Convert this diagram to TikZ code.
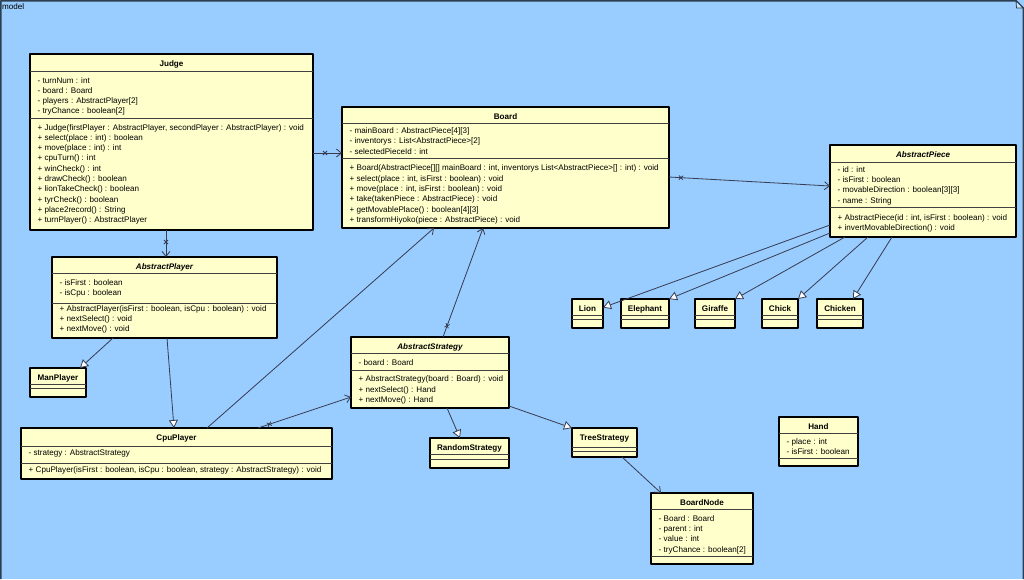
\documentclass[tikz,border=0pt]{standalone}
\usepackage{fontspec}
\setmainfont{Liberation Sans}
\usetikzlibrary{arrows.meta,decorations.markings}

\definecolor{bgblue}{RGB}{153,204,255}
\definecolor{clsfill}{RGB}{255,255,204}
\definecolor{framecol}{RGB}{44,62,80}
\definecolor{foldcol}{RGB}{204,229,255}
\definecolor{linecol}{RGB}{55,60,80}

\newcommand\umlfont{\fontsize{8.1}{10.33}\selectfont}
% one text line per member, first baseline #3 below the top of the box
\newcommand\members[4]{%
  \foreach \mtext [count=\mi] in {#4}
    \node[member] (#1-#2\mi) at ([xshift=7.5pt,yshift={-(#3+(\mi-1)*10.33)*1pt}]#1.north west) {\mtext};%
}

\tikzset{
  cls/.style={draw=black, line width=1.4pt, fill=clsfill, anchor=north west, inner sep=0pt, outer sep=0pt},
  sepline/.style={draw=black!75, line width=0.8pt},
  title/.style={anchor=base, inner sep=0pt, font=\umlfont\bfseries},
  member/.style={anchor=base west, inner sep=0pt, font=\umlfont},
  assoc/.style={draw=linecol, line width=0.8pt, -{Straight Barb[length=5pt,width=8pt]}},
  inherit/.style={draw=linecol, line width=0.8pt, -{Triangle[length=8pt,width=9pt,fill=white]}},
  xend/.style={postaction={decorate,decoration={markings,
      mark=at position 12pt with {\draw[linecol,line width=0.8pt,-] (-2pt,-2pt)--(2pt,2pt) (-2pt,2pt)--(2pt,-2pt);}}}},
}

\begin{document}
\begin{tikzpicture}[x=1pt, y=-1pt, line join=round]
  \useasboundingbox (0,0) rectangle (1024,579);
  \fill[bgblue] (0,0) rectangle (1024,579);
  \draw[framecol, line width=1.5pt] (0.75,579) -- (0.75,0.75) -- (1016,0.75) -- (1023.25,8) -- (1023.25,579);
  \filldraw[fill=foldcol, draw=framecol, line width=0.8pt] (1016,0.75) -- (1016.5,8) -- (1023.25,8) -- cycle;
  \node[member] (modellabel) at (2,9.5) {model};

  % class boxes: name/x/y/width/title sep/attribute sep/height
  \foreach \n/\x/\y/\w/\sa/\sb/\h in {
    judge/30/54/283/17/64/176,
    board/342/107/327/16/51/121,
    apiece/830/145/186/17/62/92,
    aplayer/52/257/225/16/46/81,
    manplayer/30/368/56/16/20/29,
    cpuplayer/21/428/311/18/35/51,
    astrat/351/337/158/16/33/71,
    random/430/438/79/16/21/30,
    tree/572/428/65/19/23/29,
    lion/572/299/31/16/20/29,
    elephant/621/299/48/16/20/29,
    giraffe/695/299/40/16/20/29,
    chick/762/299/36/16/20/29,
    chicken/817/299/46/16/20/29,
    boardnode/651/493/102/16/63/71,
    hand/779/417/79/16/41/49}
  {
    \node[cls, minimum width=\w*1pt, minimum height=\h*1pt] (\n) at (\x,\y) {};
    \draw[sepline] (\n.north west) ++(0,\sa) -- ++(\w,0)
      (\n.north west) ++(0,\sb) -- ++(\w,0);
  }

  \foreach \n/\ti in {judge/Judge, board/Board, cpuplayer/CpuPlayer, manplayer/ManPlayer,
      random/RandomStrategy, tree/TreeStrategy, lion/Lion, elephant/Elephant, giraffe/Giraffe,
      chick/Chick, chicken/Chicken, boardnode/BoardNode, hand/Hand}
    \node[title] (\n-title) at ([yshift=-12.5pt]\n.north) {\ti};
  \foreach \n/\ti in {apiece/AbstractPiece, aplayer/AbstractPlayer, astrat/AbstractStrategy}
    \node[title, font=\umlfont\bfseries\itshape] (\n-title) at ([yshift=-12.5pt]\n.north) {\ti};

  \members{judge}{a}{29}{{- turnNum : int},{- board : Board},{- players : AbstractPlayer[2]},{- tryChance : boolean[2]}}
  \members{judge}{m}{76}{{+ Judge(firstPlayer : AbstractPlayer, secondPlayer : AbstractPlayer) : void},
    {+ select(place : int) : boolean},{+ move(place : int) : int},{+ cpuTurn() : int},{+ winCheck() : int},
    {+ drawCheck() : boolean},{+ lionTakeCheck() : boolean},{+ tyrCheck() : boolean},
    {+ place2record() : String},{+ turnPlayer() : AbstractPlayer}}
  \members{board}{a}{26.5}{{- mainBoard : AbstractPiece[4][3]},{- inventorys : List<AbstractPiece>[2]},{- selectedPieceId : int}}
  \members{board}{m}{63.7}{{+ Board(AbstractPiece[][] mainBoard : int, inventorys List<AbstractPiece>[] : int) : void},
    {+ select(place : int, isFirst : boolean) : void},{+ move(place : int, isFirst : boolean) : void},
    {+ take(takenPiece : AbstractPiece) : void},{+ getMovablePlace() : boolean[4][3]},
    {+ transformHiyoko(piece : AbstractPiece) : void}}
  \members{apiece}{a}{27.3}{{- id : int},{- isFirst : boolean},{- movableDirection : boolean[3][3]},{- name : String}}
  \members{apiece}{m}{75.3}{{+ AbstractPiece(id : int, isFirst : boolean) : void},{+ invertMovableDirection() : void}}
  \members{aplayer}{a}{28.3}{{- isFirst : boolean},{- isCpu : boolean}}
  \members{aplayer}{m}{54.3}{{+ AbstractPlayer(isFirst : boolean, isCpu : boolean) : void},{+ nextSelect() : void},{+ nextMove() : void}}
  \members{cpuplayer}{a}{27.7}{{- strategy : AbstractStrategy}}
  \members{cpuplayer}{m}{44.3}{{+ CpuPlayer(isFirst : boolean, isCpu : boolean, strategy : AbstractStrategy) : void}}
  \members{astrat}{a}{28.7}{{- board : Board}}
  \members{astrat}{m}{44.7}{{+ AbstractStrategy(board : Board) : void},{+ nextSelect() : Hand},{+ nextMove() : Hand}}
  \members{boardnode}{a}{28}{{- Board : Board},{- parent : int},{- value : int},{- tryChance : boolean[2]}}
  \members{hand}{a}{27.3}{{- place : int},{- isFirst : boolean}}

  % associations
  \draw[assoc,xend] ([yshift=-11pt]judge.east) -- ([yshift=14.5pt]board.west);
  \draw[assoc,xend] ([xshift=-5.5pt]judge.south) -- ([xshift=1.5pt]aplayer.north);
  \draw[assoc,xend] ([yshift=-9.5pt]board.east) -- ([yshift=5pt]apiece.west);
  \draw[assoc] ([xshift=186pt]cpuplayer.north west) -- ([xshift=92pt]board.south west);
  \draw[assoc,xend] ([xshift=237pt]cpuplayer.north west) -- ([yshift=11pt]astrat.south west);
  \draw[assoc,xend] ([xshift=92pt]astrat.north west) -- ([xshift=141pt]board.south west);
  \draw[assoc] ([xshift=50pt]tree.south west) -- ([xshift=10pt]boardnode.north west);

  % generalizations
  \draw[inherit] ([yshift=-34pt]apiece.west) -- ([yshift=6pt]lion.east);
  \draw[inherit] ([yshift=4pt]apiece.south west) -- (elephant.north east);
  \draw[inherit] ([xshift=15pt]apiece.south west) -- (giraffe.north east);
  \draw[inherit] ([xshift=38pt]apiece.south west) -- (chick.north east);
  \draw[inherit] ([xshift=62pt]apiece.south west) -- ([xshift=13pt]chicken.north);
  \draw[inherit] ([xshift=61pt]aplayer.south west) -- ([xshift=-6pt]manplayer.north east);
  \draw[inherit] ([xshift=115pt]aplayer.south west) -- ([xshift=-2.5pt]cpuplayer.north);
  \draw[inherit] ([xshift=96pt]astrat.south west) -- ([xshift=30pt]random.north west);
  \draw[inherit] ([yshift=2pt]astrat.south east) -- (tree.north west);
\end{tikzpicture}
\end{document}
